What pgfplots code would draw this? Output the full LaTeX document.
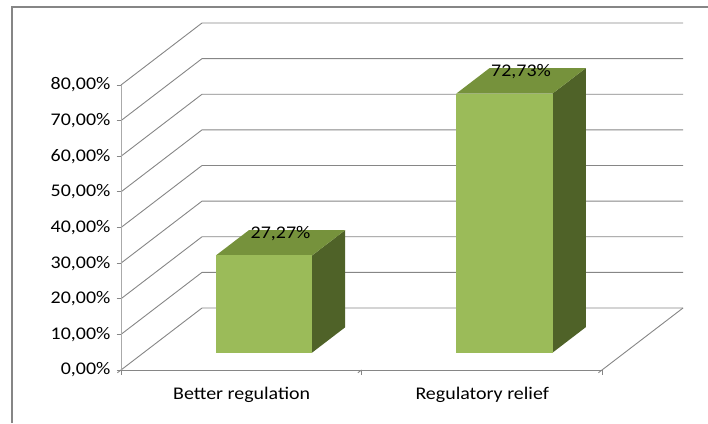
\documentclass[border=0pt]{standalone}
\usepackage{pgfplots}
\pgfplotsset{compat=1.18}
\usepackage{fontspec}
\setmainfont{Carlito}[FakeStretch=1.12]
\definecolor{barfront}{RGB}{155,187,89}
\definecolor{bartop}{RGB}{118,146,60}
\definecolor{barside}{RGB}{79,98,40}
\definecolor{gridgray}{RGB}{134,134,134}
\definecolor{axisgray}{RGB}{170,170,170}
% #1 = left x, #2 = right x, #3 = value; depth of the bar from 0.28 to 0.69
\newcommand{\cuboid}[3]{%
  \addplot3[fill=barside,draw=none] coordinates {(#2,0.28,0) (#2,0.69,0) (#2,0.69,#3) (#2,0.28,#3)};
  \addplot3[fill=bartop,draw=none] coordinates {(#1,0.28,#3) (#2,0.28,#3) (#2,0.69,#3) (#1,0.69,#3)};
  \addplot3[fill=barfront,draw=none] coordinates {(#1,0.28,0) (#2,0.28,0) (#2,0.28,#3) (#1,0.28,#3)};
}
\begin{document}
\begin{tikzpicture}
\fontsize{17.8}{21}\selectfont
\path[use as bounding box] (0,0) rectangle (708pt,423pt);
\draw[gridgray, line width=1.6pt] (12pt,0pt) -- (12pt,416pt) -- (708pt,416pt);
% 3D part: walls, floor, bars, category axis
\begin{axis}[
  at={(121pt,53pt)}, anchor=origin,
  x={(240.5pt,0pt)}, y={(81pt,62pt)}, z={(0pt,3.5625pt)},
  xmin=0, xmax=2, ymin=0, ymax=1, zmin=0, zmax=80,
  clip=false,
  axis lines*=left,
  x axis line style={gridgray, line width=0.9pt},
  y axis line style={draw=none},
  z axis line style={draw=none},
  xtick={0,1,2},
  x tick label as interval,
  xticklabels={Better regulation, Regulatory relief},
  xticklabel style={font=\fontsize{17.8}{21}\selectfont, text=black, anchor=north, xshift=4pt, yshift=-8pt},
  ytick=\empty,
  ztick=\empty,
  tick align=outside,
  major tick length=4.5pt,
  tick style={gridgray, line width=0.9pt},
]
\pgfplotsinvokeforeach{0,10,20,30,40,50,60,70,80}{
  \addplot3[gridgray, line width=0.9pt] coordinates {(0,0,#1) (0,1,#1) (2,1,#1)};
}
\addplot3[gridgray, line width=0.9pt] coordinates {(2,0,0) (2,1,0)};
\cuboid{0.3}{0.7}{27.27}
\cuboid{1.3}{1.7}{72.73}
\node[anchor=south, inner sep=0pt, yshift=1.5pt, font=\fontsize{17.8}{21}\selectfont] at (axis cs:0.5,0.485,27.27) {27,27\%};
\node[anchor=south, inner sep=0pt, yshift=1.5pt, font=\fontsize{17.8}{21}\selectfont] at (axis cs:1.5,0.485,72.73) {72,73\%};
\end{axis}
% front value axis
\begin{axis}[
  at={(121pt,53pt)}, anchor=origin,
  x=1pt, y=3.5625pt,
  xmin=0, xmax=1, ymin=0, ymax=80,
  clip=false,
  axis x line=none,
  axis y line*=left,
  y axis line style={axisgray, line width=0.9pt},
  ytick={0,10,...,80},
  yticklabel={\pgfmathprintnumber{\tick}\%},
  /pgf/number format/.cd, fixed, fixed zerofill, precision=2, use comma, assume math mode=true,
  /pgfplots/.cd,
  tick align=outside,
  major tick length=4.5pt,
  tick style={gridgray, line width=0.9pt},
  yticklabel style={font=\fontsize{17.8}{21}\selectfont, text=black},
]
\end{axis}
\end{tikzpicture}
\end{document}
